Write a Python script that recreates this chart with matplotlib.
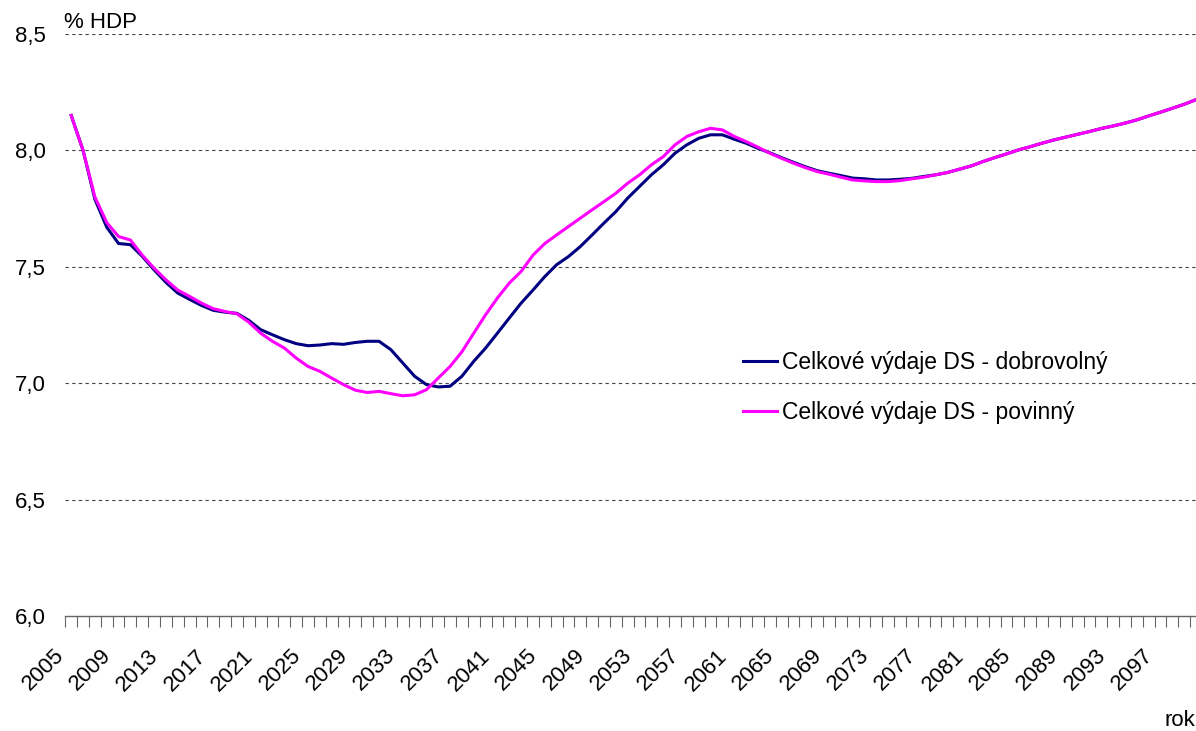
import numpy as np
import matplotlib
matplotlib.use("Agg")
import matplotlib.pyplot as plt
from matplotlib.ticker import FixedLocator, FuncFormatter
from matplotlib.transforms import ScaledTranslation

plt.rcParams["font.family"] = ["Liberation Sans", "DejaVu Sans"]

# Data: roky 2005-2100
roky = list(range(2005, 2101))

dobrovolny = [
    8.15, 8.00, 7.79, 7.67, 7.60, 7.595, 7.545, 7.487, 7.433, 7.387,
    7.36, 7.334, 7.313, 7.305, 7.30, 7.27, 7.23, 7.208, 7.187, 7.170,
    7.161, 7.164, 7.17, 7.167, 7.175, 7.18, 7.18, 7.144, 7.087, 7.03,
    6.994, 6.984, 6.987, 7.03, 7.094, 7.151, 7.215, 7.28, 7.344, 7.40,
    7.458, 7.509, 7.544, 7.587, 7.637, 7.688, 7.737, 7.795, 7.845, 7.895,
    7.938, 7.988, 8.024, 8.052, 8.067, 8.067, 8.048, 8.031, 8.009, 7.99,
    7.969, 7.949, 7.93, 7.913, 7.902, 7.892, 7.881, 7.878, 7.873, 7.873,
    7.876, 7.88, 7.888, 7.895, 7.905, 7.919, 7.933, 7.952, 7.969, 7.985,
    8.002, 8.016, 8.031, 8.045, 8.057, 8.069, 8.081, 8.094, 8.105, 8.117,
    8.131, 8.148, 8.164, 8.181, 8.198, 8.218,
]

povinny = [
    8.15, 8.00, 7.80, 7.69, 7.63, 7.615, 7.55, 7.494, 7.444, 7.40,
    7.373, 7.344, 7.32, 7.308, 7.298, 7.262, 7.215, 7.18, 7.151, 7.108,
    7.072, 7.051, 7.022, 6.994, 6.97, 6.96, 6.965, 6.955, 6.946, 6.95,
    6.972, 7.022, 7.072, 7.135, 7.215, 7.294, 7.366, 7.43, 7.48, 7.55,
    7.60, 7.637, 7.673, 7.709, 7.745, 7.78, 7.816, 7.859, 7.895, 7.938,
    7.973, 8.024, 8.06, 8.08, 8.095, 8.088, 8.06, 8.038, 8.014, 7.988,
    7.966, 7.945, 7.926, 7.909, 7.898, 7.885, 7.873, 7.869, 7.866, 7.866,
    7.87, 7.878, 7.885, 7.895, 7.905, 7.919, 7.933, 7.952, 7.969, 7.985,
    8.002, 8.016, 8.031, 8.045, 8.057, 8.069, 8.081, 8.094, 8.105, 8.117,
    8.131, 8.148, 8.164, 8.181, 8.198, 8.218,
]

nazvy = ["Celkové výdaje DS - dobrovolný", "Celkové výdaje DS - povinný"]
barvy = ["#000080", "#FF00FF"]

fig = plt.figure(figsize=(11.96, 7.31), dpi=100)
ax = fig.add_axes([65.3 / 1196, 115 / 731, 1136.6 / 1196, 582 / 731])

idx = np.arange(len(roky))
ax.plot(idx, dobrovolny, color=barvy[0], lw=2.2, label=nazvy[0], clip_on=False, zorder=3)
ax.plot(idx, povinny, color=barvy[1], lw=2.2, label=nazvy[1], clip_on=False, zorder=4)

ax.set_xlim(-0.5, len(roky) - 0.5)
ax.set_ylim(6.0, 8.5)

# osa y
ax.set_yticks(np.arange(6.0, 8.51, 0.5))
ax.yaxis.set_major_formatter(FuncFormatter(lambda v, p: f"{v:.1f}".replace(".", ",")))
ax.tick_params(axis="y", length=0, pad=14, labelsize=16)
for y in np.arange(6.5, 8.51, 0.5):
    ax.axhline(y, color="#444444", lw=0.8, ls=(0, (3, 3)), zorder=1)

# osa x
popisky = list(range(0, len(roky), 4))
ax.set_xticks(popisky)
ax.set_xticklabels([str(roky[i]) for i in popisky], rotation=45, ha="right")
ax.xaxis.set_minor_locator(FixedLocator(np.arange(-0.5, len(roky), 1.0)))
ax.tick_params(axis="x", which="major", length=0, pad=21, labelsize=16)
ax.tick_params(axis="x", which="minor", length=8, width=0.8, color="#666666", direction="out")
posun = ScaledTranslation(-3 / 100, 0, fig.dpi_scale_trans)
for lab in ax.get_xticklabels():
    lab.set_transform(lab.get_transform() + posun)

for s in ["top", "right", "left"]:
    ax.spines[s].set_visible(False)
ax.spines["bottom"].set_color("#666666")
ax.spines["bottom"].set_linewidth(1.0)

ax.legend(loc="upper left", bbox_to_anchor=(743 / 1196, (731 - 351) / 731),
          bbox_transform=fig.transFigure, frameon=False, fontsize=16.5,
          borderpad=0, borderaxespad=0,
          handlelength=1.48, handletextpad=0.22, labelspacing=1.2)

fig.text(64 / 1196, (731 - 28) / 731, "% HDP", fontsize=16, va="baseline")
fig.text(1195 / 1196, (731 - 726) / 731, "rok", fontsize=16, va="baseline", ha="right")

fig.savefig("out.png", dpi=100)
